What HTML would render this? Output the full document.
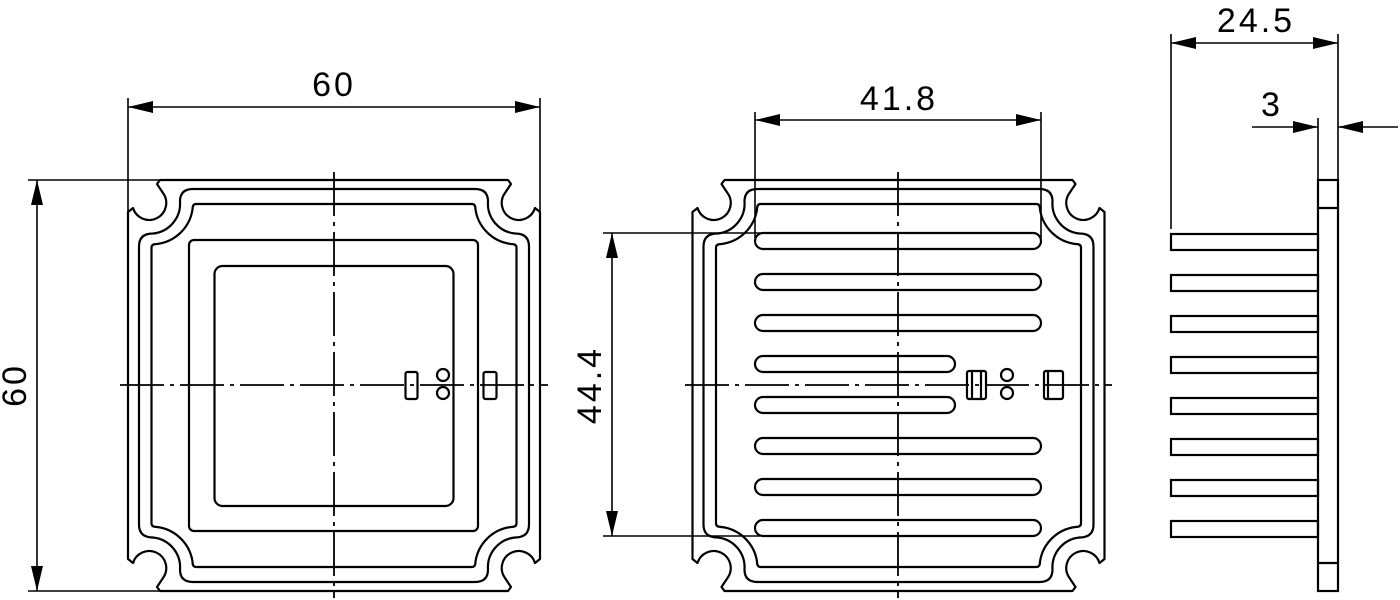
<!DOCTYPE html>
<html><head><meta charset="utf-8"><style>
html,body{margin:0;padding:0;background:#fff;}
svg{display:block;}
text{font-family:"Liberation Sans",sans-serif;font-size:34px;fill:#000;letter-spacing:3px;}
</style></head><body>
<svg width="1400" height="600" viewBox="0 0 1400 600" xmlns="http://www.w3.org/2000/svg">
<defs>
<g id="q" fill="none" stroke="#000" stroke-width="2.2" stroke-linejoin="round">
<path d="M0,-205.5 L-174,-205.5 L-177,-201.5 L-171,-192.5 A17 17 0 1 1 -201,-177.5 L-206,-173.5 L-206,0"/>
<path d="M0,-196.5 L-141,-196.5 Q-154,-196.5 -154,-184 A30 30 0 0 1 -181,-152 Q-195,-152 -195,-139 L-195,0"/>
<path d="M0,-181.5 L-138,-181.5 Q-141.5,-181.5 -141.5,-176 A41 41 0 0 1 -177,-141.5 Q-182.5,-141.5 -182.5,-138 L-182.5,0"/>
</g>
</defs>
<!-- LEFT VIEW -->
<use href="#q" transform="translate(334,385.5)"/>
<use href="#q" transform="translate(334,385.5) scale(-1,1)"/>
<use href="#q" transform="translate(334,385.5) scale(1,-1)"/>
<use href="#q" transform="translate(334,385.5) scale(-1,-1)"/>
<g fill="none" stroke="#000" stroke-width="2.2">
<rect x="189" y="240" width="289" height="291" rx="5"/>
<rect x="214.5" y="266" width="239" height="240" rx="8"/>
<rect x="405.5" y="372" width="12" height="27" rx="2"/>
<rect x="483.5" y="372" width="13" height="27" rx="2"/>
<circle cx="443" cy="375" r="6"/>
<circle cx="443" cy="393" r="6"/>
</g>
<g stroke="#000" stroke-width="1.8" fill="none" stroke-dasharray="44,6,4,6">
<line x1="334" y1="172" x2="334" y2="598"/>
<line x1="120" y1="385" x2="548" y2="385"/>
</g>
<!-- MIDDLE VIEW -->
<use href="#q" transform="translate(898.5,385.5)"/>
<use href="#q" transform="translate(898.5,385.5) scale(-1,1)"/>
<use href="#q" transform="translate(898.5,385.5) scale(1,-1)"/>
<use href="#q" transform="translate(898.5,385.5) scale(-1,-1)"/>
<g fill="#fff" stroke="#000" stroke-width="2.2">
<rect x="755" y="233" width="286" height="16" rx="8"/>
<rect x="755" y="274" width="286" height="16" rx="8"/>
<rect x="755" y="315" width="286" height="16" rx="8"/>
<rect x="755" y="356" width="200" height="16" rx="8"/>
<rect x="755" y="397" width="200" height="16" rx="8"/>
<rect x="755" y="438" width="286" height="16" rx="8"/>
<rect x="755" y="479" width="286" height="16" rx="8"/>
<rect x="755" y="520" width="286" height="16" rx="8"/>
</g>
<g stroke="#000" stroke-width="1.8" fill="none" stroke-dasharray="44,6,4,6">
<line x1="898" y1="172" x2="898" y2="598"/>
<line x1="685" y1="385" x2="1112" y2="385"/>
</g>
<g fill="none" stroke="#000" stroke-width="2.2">
<rect x="967" y="371" width="19" height="28" rx="2"/>
<line x1="972" y1="372" x2="972" y2="398"/>
<line x1="981" y1="372" x2="981" y2="398"/>
<rect x="1044" y="371" width="19" height="28" rx="2"/>
<line x1="1048" y1="372" x2="1048" y2="398"/>
<circle cx="1007" cy="375" r="6"/>
<circle cx="1007" cy="393" r="6"/>
</g>
<!-- RIGHT VIEW -->
<g fill="none" stroke="#000" stroke-width="2.2">
<rect x="1318" y="180" width="20" height="411"/>
<line x1="1318" y1="208" x2="1338" y2="208"/>
<line x1="1318" y1="563" x2="1338" y2="563"/>
<rect x="1171" y="234" width="147" height="16"/>
<rect x="1171" y="275" width="147" height="16"/>
<rect x="1171" y="316" width="147" height="16"/>
<rect x="1171" y="357" width="147" height="16"/>
<rect x="1171" y="398" width="147" height="16"/>
<rect x="1171" y="439" width="147" height="16"/>
<rect x="1171" y="480" width="147" height="16"/>
<rect x="1171" y="521" width="147" height="16"/>
</g>
<!-- DIMENSIONS -->
<g stroke="#000" stroke-width="1.6" fill="none">
<line x1="128" y1="98" x2="128" y2="212"/>
<line x1="540" y1="98" x2="540" y2="212"/>
<line x1="128" y1="107" x2="540" y2="107"/>
<line x1="28" y1="180" x2="160" y2="180"/>
<line x1="28" y1="591" x2="160" y2="591"/>
<line x1="37" y1="180" x2="37" y2="591"/>
<line x1="755" y1="112" x2="755" y2="238"/>
<line x1="1041" y1="112" x2="1041" y2="238"/>
<line x1="755" y1="120" x2="1041" y2="120"/>
<line x1="603" y1="233" x2="760" y2="233"/>
<line x1="603" y1="536" x2="760" y2="536"/>
<line x1="612" y1="233" x2="612" y2="536"/>
<line x1="1171" y1="34" x2="1171" y2="229"/>
<line x1="1338" y1="34" x2="1338" y2="180"/>
<line x1="1171" y1="43" x2="1338" y2="43"/>
<line x1="1318" y1="118" x2="1318" y2="180"/>
<line x1="1252" y1="127" x2="1318" y2="127"/>
<line x1="1338" y1="127" x2="1398" y2="127"/>
</g>
<g fill="#000">
<polygon points="128,107 153,101 153,113"/>
<polygon points="540,107 515,101 515,113"/>
<polygon points="37,180 31,205 43,205"/>
<polygon points="37,591 31,566 43,566"/>
<polygon points="755,120 780,114 780,126"/>
<polygon points="1041,120 1016,114 1016,126"/>
<polygon points="612,233 606,258 618,258"/>
<polygon points="612,536 606,511 618,511"/>
<polygon points="1171,43 1196,37 1196,49"/>
<polygon points="1338,43 1313,37 1313,49"/>
<polygon points="1318,127 1293,121 1293,133"/>
<polygon points="1338,127 1363,121 1363,133"/>
</g>
<text x="334" y="96" text-anchor="middle">60</text>
<text x="899" y="110" text-anchor="middle">41.8</text>
<text x="1256" y="32" text-anchor="middle">24.5</text>
<text x="1272" y="116" text-anchor="middle">3</text>
<text transform="translate(26,385) rotate(-90)" text-anchor="middle">60</text>
<text transform="translate(601,385) rotate(-90)" text-anchor="middle">44.4</text>
</svg>
</body></html>
